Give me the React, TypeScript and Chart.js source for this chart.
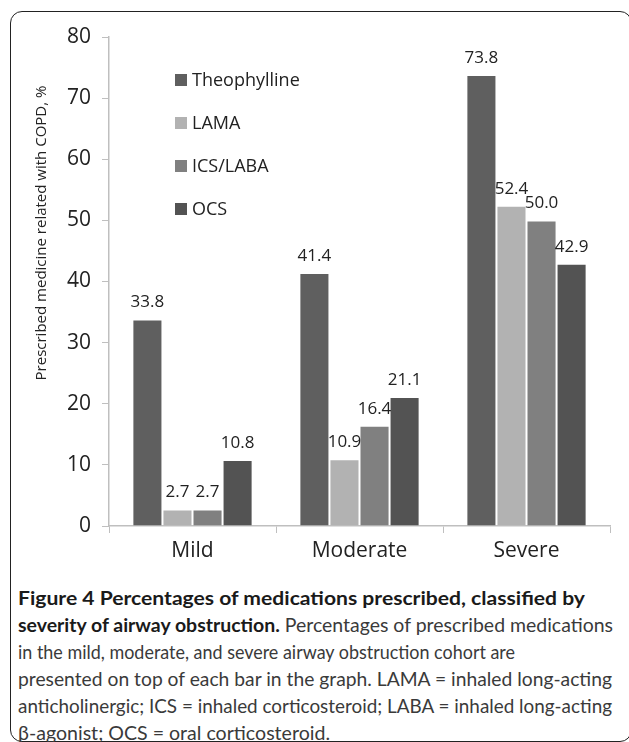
import React, { useEffect, useLayoutEffect, useRef } from "react";
import { Chart, registerables } from "chart.js";

Chart.register(...registerables);

const categories = ["Mild", "Moderate", "Severe"];
const seriesNames = ["Theophylline", "LAMA", "ICS/LABA", "OCS"];
const theophylline = [33.8, 41.4, 73.8];
const lama = [2.7, 10.9, 52.4];
const icsLaba = [2.7, 16.4, 50.0];
const ocs = [10.8, 21.1, 42.9];
const seriesColors = ["#5f5f5f", "#b2b2b2", "#808080", "#535353"];
const yTicks = [0, 10, 20, 30, 40, 50, 60, 70, 80];
const yTitle = "Prescribed medicine related with COPD, %";

const FONT = "'Open Sans', 'Noto Sans', sans-serif";

const dataLabelPlugin = {
  id: "dataLabels",
  afterDatasetsDraw(chart: any) {
    const ctx = chart.ctx;
    ctx.save();
    ctx.font = `17px ${FONT}`;
    ctx.fillStyle = "#222";
    ctx.textAlign = "center";
    ctx.textBaseline = "alphabetic";
    chart.data.datasets.forEach((ds: any, i: number) => {
      const meta = chart.getDatasetMeta(i);
      meta.data.forEach((el: any, j: number) => {
        const v = ds.data[j];
        ctx.fillText(v.toFixed(1), el.x, el.y - 12);
      });
    });
    ctx.restore();
  },
};

const legendPlugin = {
  id: "innerLegend",
  afterDraw(chart: any) {
    const ctx = chart.ctx;
    ctx.save();
    ctx.font = `18px ${FONT}`;
    ctx.textBaseline = "middle";
    ctx.textAlign = "left";
    chart.data.datasets.forEach((ds: any, i: number) => {
      const y = 80 + i * 43;
      ctx.fillStyle = ds.backgroundColor;
      ctx.fillRect(175, y - 6, 12, 12);
      ctx.fillStyle = "#222";
      ctx.fillText(ds.label, 192, y + 1);
    });
    ctx.restore();
  },
};

const yTitlePlugin = {
  id: "yTitle",
  afterDraw(chart: any) {
    const ctx = chart.ctx;
    ctx.save();
    ctx.translate(42, 233);
    ctx.rotate(-Math.PI / 2);
    ctx.font = `15px ${FONT}`;
    ctx.fillStyle = "#222";
    ctx.textAlign = "center";
    ctx.textBaseline = "middle";
    ctx.fillText(yTitle, 0, 0);
    ctx.restore();
  },
};

const captionLines: { bold?: string; text?: string; top: number; width: number }[] = [
  { bold: "Figure 4 Percentages of medications prescribed, classified by", top: 584, width: 567 },
  { bold: "severity of airway obstruction.", text: " Percentages of prescribed medications", top: 611, width: 595 },
  { text: "in the mild, moderate, and severe airway obstruction cohort are", top: 638, width: 497 },
  { text: "presented on top of each bar in the graph. LAMA = inhaled long-acting", top: 665, width: 594 },
  { text: "anticholinergic; ICS = inhaled corticosteroid; LABA = inhaled long-acting", top: 692, width: 594 },
  { text: "β-agonist; OCS = oral corticosteroid.", top: 719, width: 312 },
];

function CaptionLine({ bold, text, top, width }: { bold?: string; text?: string; top: number; width: number }) {
  const ref = useRef<HTMLDivElement>(null);
  useLayoutEffect(() => {
    const el = ref.current;
    if (!el) return;
    el.style.transform = "none";
    const w = el.getBoundingClientRect().width;
    if (w > 0) el.style.transform = `scaleX(${width / w})`;
  }, [width]);
  return (
    <div
      ref={ref}
      style={{
        position: "absolute",
        left: 18,
        top,
        whiteSpace: "nowrap",
        fontFamily: "Lato, 'Open Sans', sans-serif",
        fontSize: 19,
        lineHeight: "27px",
        transformOrigin: "0 0",
        color: "#3a3a3a",
      }}
    >
      {bold && <span style={{ fontWeight: 700, color: "#1a1a1a" }}>{bold}</span>}
      {text && <span>{text}</span>}
    </div>
  );
}

export default function App() {
  const canvasRef = useRef<HTMLCanvasElement>(null);

  useEffect(() => {
    const canvas = canvasRef.current;
    if (!canvas) return;
    const values = [theophylline, lama, icsLaba, ocs];
    const chart = new Chart(canvas, {
      type: "bar",
      data: {
        labels: categories,
        datasets: seriesNames.map((name, i) => ({
          label: name,
          data: values[i],
          backgroundColor: seriesColors[i],
          borderColor: "rgba(255,255,255,0.25)",
          borderWidth: 1,
          categoryPercentage: 0.72,
          barPercentage: 1.0,
        })),
      },
      options: {
        responsive: false,
        animation: false,
        layout: { padding: { left: 0, right: 19, top: 37, bottom: 0 } },
        plugins: {
          legend: { display: false },
          tooltip: { enabled: false },
        },
        scales: {
          x: {
            grid: {
              display: true,
              drawOnChartArea: false,
              drawTicks: true,
              tickLength: 7,
              color: "#bfbfbf",
              offset: true,
            },
            border: { display: true, color: "#bfbfbf", width: 1.5 },
            ticks: {
              font: { family: FONT, size: 21 },
              color: "#222",
              padding: 5,
            },
            afterFit(scale: any) {
              scale.height = 54;
            },
          },
          y: {
            min: 0,
            max: 80,
            afterBuildTicks(scale: any) {
              scale.ticks = yTicks.map((v) => ({ value: v }));
            },
            grid: {
              display: true,
              drawOnChartArea: false,
              drawTicks: true,
              tickLength: 7,
              color: "#bfbfbf",
            },
            border: { display: true, color: "#bfbfbf", width: 1.5 },
            ticks: {
              font: { family: FONT, size: 21 },
              color: "#222",
              padding: 11,
            },
            afterFit(scale: any) {
              scale.width = 109;
            },
          },
        },
      },
      plugins: [dataLabelPlugin, legendPlugin, yTitlePlugin],
    });
    return () => chart.destroy();
  }, []);

  return (
    <div style={{ position: "absolute", left: 0, top: 0, width: 629, height: 742, background: "#fff", overflow: "hidden" }}>
      <div
        style={{
          position: "absolute",
          left: 10,
          top: 11,
          width: 620,
          height: 729,
          border: "1.5px solid #222",
          borderRadius: 12,
        }}
      />
      <canvas ref={canvasRef} width={629} height={580} style={{ position: "absolute", left: 0, top: 0, width: 629, height: 580 }} />
      {captionLines.map((l, i) => (
        <CaptionLine key={i} {...l} />
      ))}
    </div>
  );
}
